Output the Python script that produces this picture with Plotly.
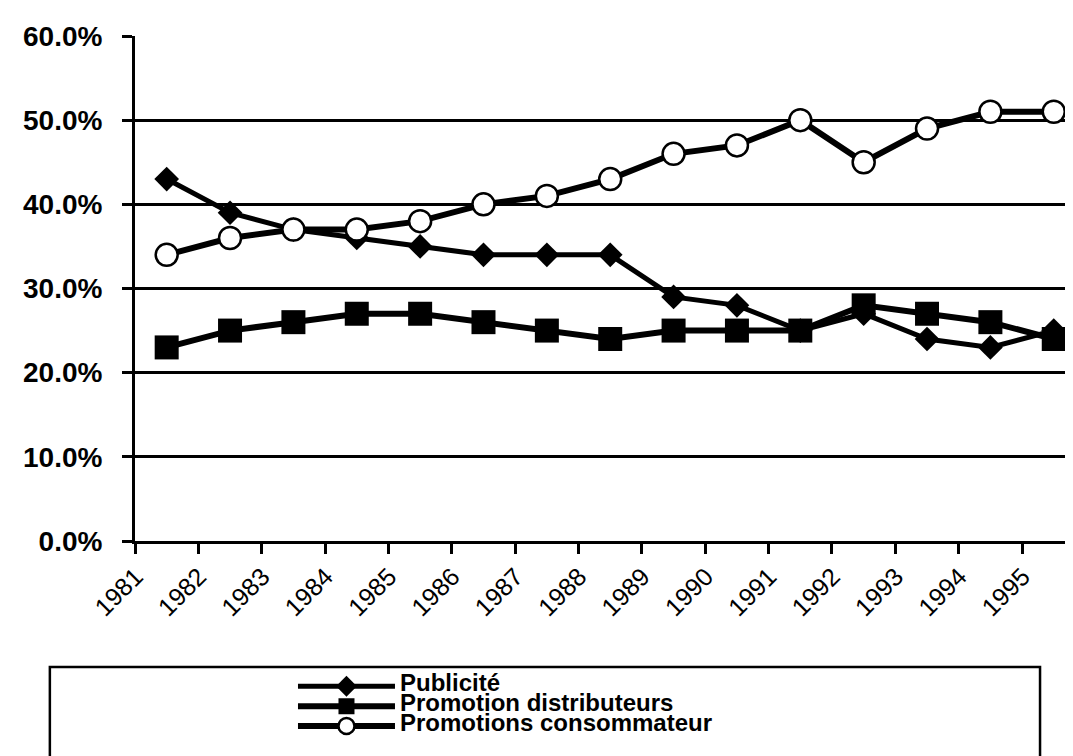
import plotly.graph_objects as go

years = ["1981", "1982", "1983", "1984", "1985", "1986", "1987", "1988",
         "1989", "1990", "1991", "1992", "1993", "1994", "1995"]
publicite = [43, 39, 37, 36, 35, 34, 34, 34, 29, 28, 25, 27, 24, 23, 25]
promo_distrib = [23, 25, 26, 27, 27, 26, 25, 24, 25, 25, 25, 28, 27, 26, 24]
promo_conso = [34, 36, 37, 37, 38, 40, 41, 43, 46, 47, 50, 45, 49, 51, 51]
series_names = ["Publicité", "Promotion distributeurs", "Promotions consommateur"]
y_ticks = [0, 10, 20, 30, 40, 50, 60]
y_tick_text = [f"{v:.1f}%" for v in y_ticks]

FONT = "Liberation Sans, Arial, sans-serif"
LEG_SPAN = '<span style="font-size:24px">{}</span>'

fig = go.Figure()
fig.add_trace(go.Scatter(
    x=years, y=publicite, name=LEG_SPAN.format(series_names[0]), mode="lines+markers",
    line=dict(color="black", width=5),
    marker=dict(symbol="diamond", size=19, color="black", line=dict(width=0)),
))
fig.add_trace(go.Scatter(
    x=years, y=promo_distrib, name=LEG_SPAN.format(series_names[1]), mode="lines+markers",
    line=dict(color="black", width=6),
    marker=dict(symbol="square", size=24, color="black", line=dict(width=0)),
))
fig.add_trace(go.Scatter(
    x=years, y=promo_conso, name=LEG_SPAN.format(series_names[2]), mode="lines+markers",
    line=dict(color="black", width=6),
    marker=dict(symbol="circle", size=22, color="white", line=dict(color="black", width=2.5)),
))

fig.update_layout(
    width=1073, height=756,
    margin=dict(l=127, r=0, t=28, b=223, pad=0),
    paper_bgcolor="white", plot_bgcolor="white",
    showlegend=True,
    legend=dict(
        x=0.167, y=-0.258, xanchor="left", yanchor="top",
        bgcolor="rgba(0,0,0,0)", borderwidth=0,
        font=dict(family=FONT, size=13, color="black", weight="bold"),
        itemwidth=97, tracegroupgap=0,
    ),
    shapes=[dict(
        type="rect", xref="paper", yref="paper",
        x0=-0.09, x1=0.9567, y0=-0.2495, y1=-0.46,
        line=dict(color="black", width=2.5), fillcolor="rgba(0,0,0,0)", layer="below",
    )],
)

fig.update_xaxes(
    type="category", range=[-0.5, 14.43],
    tickson="boundaries", ticks="outside", ticklen=10, tickwidth=2.5, tickcolor="black",
    showgrid=False, zeroline=False,
    showline=True, linecolor="black", linewidth=3,
    tickangle=-45, ticklabelshift=-31, ticklabelstandoff=8,
    tickfont=dict(family=FONT, size=25, color="black"),
)
fig.update_yaxes(
    range=[0, 60], tickmode="array", tickvals=y_ticks, ticktext=y_tick_text,
    ticks="outside", ticklen=10, tickwidth=2.5, tickcolor="black",
    showgrid=True, gridcolor="black", gridwidth=3,
    zeroline=False, showline=True, linecolor="black", linewidth=3,
    ticklabelstandoff=14,
    tickfont=dict(family=FONT, size=28, color="black", weight="bold"),
)

fig.write_html("out.html")
